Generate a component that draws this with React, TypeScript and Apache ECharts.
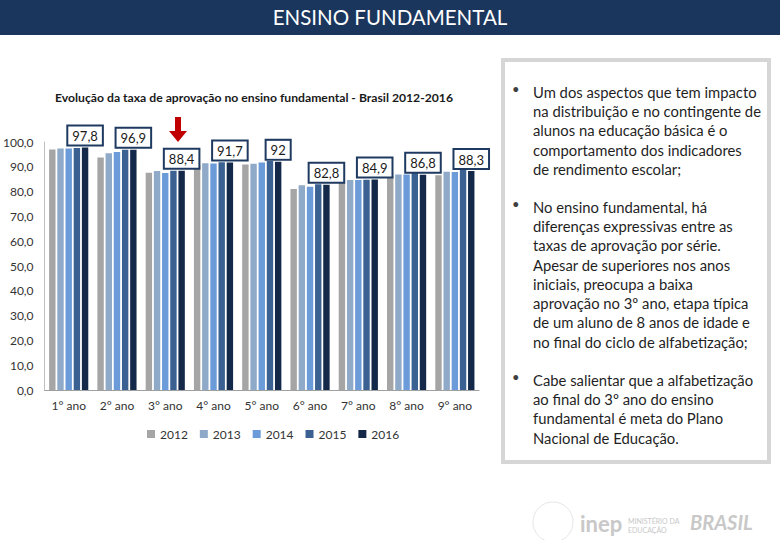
import React, { useEffect, useRef } from "react";
import * as echarts from "echarts";

const categories = ["1° ano", "2° ano", "3° ano", "4° ano", "5° ano", "6° ano", "7° ano", "8° ano", "9° ano"];
const years = ["2012", "2013", "2014", "2015", "2016"];
const v2012 = [97.0, 93.7, 87.6, 90.8, 90.9, 81.0, 84.0, 86.3, 86.6];
const v2013 = [97.4, 95.5, 88.3, 91.4, 91.2, 82.6, 84.7, 86.9, 88.0];
const v2014 = [97.4, 96.0, 87.5, 91.3, 91.7, 82.0, 84.7, 86.9, 87.9];
const v2015 = [97.6, 96.9, 88.4, 91.8, 92.3, 83.0, 84.8, 87.6, 88.7];
const v2016 = [97.8, 96.9, 88.4, 91.7, 92.0, 82.8, 84.9, 86.8, 88.3];
const labels2016 = ["97,8", "96,9", "88,4", "91,7", "92", "82,8", "84,9", "86,8", "88,3"];
const yTicks = { min: 0, max: 100, interval: 10 };

const seriesValues = [v2012, v2013, v2014, v2015, v2016];
const colors = ["#a5a5a5", "#8fa9c9", "#6b9bd8", "#3a6191", "#14284a"];

const bullets = [
  "Um dos aspectos que tem impacto\nna distribuição e no contingente de\nalunos na educação básica é o\ncomportamento dos indicadores\nde rendimento escolar;",
  "No ensino fundamental, há\ndiferenças expressivas entre as\ntaxas de aprovação por série.\nApesar de superiores nos anos\niniciais, preocupa a baixa\naprovação no 3º ano, etapa típica\nde um aluno de 8 anos de idade e\nno final do ciclo de alfabetização;",
  "Cabe salientar que a alfabetização\nao final do 3º ano do ensino\nfundamental é meta do Plano\nNacional de Educação.",
];

const FONT = "Lato";

export default function App() {
  const ref = useRef<HTMLDivElement>(null);
  useEffect(() => {
    if (!ref.current) return;
    const chart = echarts.init(ref.current, null, { renderer: "svg" });
    const bulletTops = [82, 197, 370];
    const textGraphics: any[] = [];
    bullets.forEach((b, i) => {
      textGraphics.push({
        type: "text",
        left: 512,
        top: bulletTops[i],
        style: { text: "•", fontSize: 13, fill: "#404040", fontFamily: FONT },
      });
      textGraphics.push({
        type: "text",
        left: 533,
        top: bulletTops[i],
        style: {
          text: b,
          fontSize: 14.8,
          lineHeight: 19.3,
          fill: "#1f1f1f",
          fontFamily: FONT,
        },
      });
    });

    chart.setOption({
      animation: false,
      backgroundColor: "#ffffff",
      title: {
        text: "Evolução da taxa de aprovação no ensino fundamental - Brasil 2012-2016",
        left: 50,
        top: 86,
        textStyle: { fontSize: 12.2, fontWeight: "bold", color: "#1a1a1a", fontFamily: FONT },
      },
      legend: {
        data: years,
        left: 142,
        top: 423,
        itemWidth: 8,
        itemHeight: 8,
        itemGap: 12,
        icon: "rect",
        textStyle: { fontSize: 12, color: "#333", fontFamily: FONT },
      },
      grid: { left: 43, right: 301, top: 142, bottom: 150 },
      xAxis: {
        type: "category",
        data: categories,
        axisLine: { lineStyle: { color: "#a0a0a0" } },
        axisTick: { show: false },
        axisLabel: { fontSize: 12, color: "#333", margin: 9, fontFamily: FONT },
      },
      yAxis: {
        type: "value",
        min: yTicks.min,
        max: yTicks.max,
        interval: yTicks.interval,
        axisLine: { show: true, lineStyle: { color: "#bfbfbf" } },
        axisTick: { show: false },
        splitLine: { show: false },
        axisLabel: {
          fontSize: 12,
          color: "#333",
          margin: 11,
          fontFamily: FONT,
          formatter: (v: number) => v.toFixed(1).replace(".", ","),
        },
      },
      series: years.map((y, i) => ({
        name: y,
        type: "bar",
        data: seriesValues[i],
        barWidth: 6.4,
        barGap: "28%",
        itemStyle: { color: colors[i] },
        label:
          i === 4
            ? {
                show: true,
                position: "top",
                distance: 3,
                formatter: (p: any) => labels2016[p.dataIndex],
                backgroundColor: "#ffffff",
                borderColor: "#1f3a60",
                borderWidth: 2,
                padding: [3, 4, 2, 4],
                fontSize: 13,
                color: "#1a1a1a",
                fontFamily: FONT,
              }
            : { show: false },
      })),
      graphic: [
        {
          type: "rect",
          left: 0,
          top: 0,
          shape: { width: 780, height: 35 },
          style: { fill: "#1b365d" },
        },
        {
          type: "text",
          x: 390,
          y: 17,
          style: {
            text: "ENSINO FUNDAMENTAL",
            fill: "#ffffff",
            fontSize: 20.5,
            fontFamily: FONT,
            align: "center",
            verticalAlign: "middle",
          },
        },
        {
          type: "polygon",
          shape: {
            points: [
              [175, 117],
              [181, 117],
              [181, 131],
              [187, 131],
              [178, 142],
              [169, 131],
              [175, 131],
            ],
          },
          style: { fill: "#c00000" },
        },
        {
          type: "rect",
          shape: { x: 503, y: 60, width: 266, height: 402 },
          style: { fill: "#ffffff", stroke: "#d6d6d6", lineWidth: 4 },
        },
        ...textGraphics,
        {
          type: "circle",
          shape: { cx: 553, cy: 522, r: 20 },
          style: { fill: "none", stroke: "#e6e6e6", lineWidth: 1 },
        },
        {
          type: "text",
          left: 580,
          top: 512,
          style: { text: "inep", fontSize: 22, fontWeight: "bold", fill: "#c8c8c8", fontFamily: FONT },
        },
        {
          type: "text",
          left: 628,
          top: 516,
          style: { text: "MINISTÉRIO DA\nEDUCAÇÃO", fontSize: 7, lineHeight: 9, fill: "#c8c8c8", fontFamily: FONT, align: "left" },
        },
        {
          type: "text",
          left: 690,
          top: 512,
          style: { text: "BRASIL", fontSize: 20, fontWeight: "bold", fontStyle: "italic", fill: "#c8c8c8", fontFamily: FONT },
        },
      ],
    });
    return () => chart.dispose();
  }, []);
  return (
    <div
      ref={ref}
      style={{ position: "absolute", left: 0, top: 0, width: 780, height: 540 }}
    />
  );
}
